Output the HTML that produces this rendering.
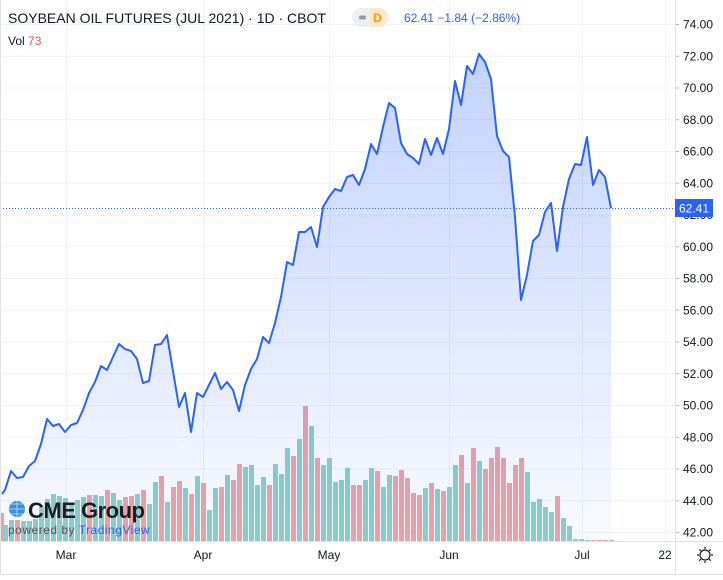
<!DOCTYPE html>
<html><head><meta charset="utf-8"><style>
body{margin:0;background:#fff;width:723px;height:575px;overflow:hidden;font-family:"Liberation Sans",sans-serif}
</style></head><body>
<svg width="723" height="575" xmlns="http://www.w3.org/2000/svg" font-family="Liberation Sans, sans-serif">
<defs>
<linearGradient id="g2" x1="0" y1="54" x2="0" y2="541" gradientUnits="userSpaceOnUse">
<stop offset="0" stop-color="#2962ff" stop-opacity="0.28"/>
<stop offset="1" stop-color="#2962ff" stop-opacity="0.03"/>
</linearGradient>
</defs>
<rect x="0" y="0" width="723" height="575" fill="#fff"/>
<g id="grid" stroke="#f0f3fa" stroke-width="1"></g>
<g id="vol"></g>
<path id="area" fill="url(#g2)"/>
<path id="line" fill="none" stroke="#2962ff" stroke-width="2" stroke-linejoin="round"/>
<line x1="0" y1="208.5" x2="675" y2="208.5" stroke="#2962ff" stroke-width="1" stroke-dasharray="1,2"/>
<line x1="675.5" y1="0" x2="675.5" y2="575" stroke="#e0e3eb"/>
<line x1="0" y1="541.5" x2="723" y2="541.5" stroke="#e0e3eb"/>
<line x1="0.5" y1="0" x2="0.5" y2="575" stroke="#e0e3eb"/>
<line x1="0" y1="574.5" x2="723" y2="574.5" stroke="#e0e3eb"/>
<g id="ylab" font-size="12" fill="#131722"></g>
<rect x="675" y="199" width="38" height="18" fill="#2962ff"/>
<text x="694" y="212.5" font-size="12" fill="#fff" text-anchor="middle">62.41</text>
<g font-size="12" fill="#131722" text-anchor="middle">
<text x="66" y="559">Mar</text><text x="203" y="559">Apr</text><text x="329" y="559">May</text>
<text x="449" y="559">Jun</text><text x="582" y="559">Jul</text><text x="665" y="559">22</text>
</g>
<g transform="translate(705,555)" stroke="#131722" stroke-width="1.2" fill="none">
<circle r="5"/><path d="M0,-8V-6M0,6V8M-8,0H-6M6,0H8M-5.7,-5.7L-4.2,-4.2M4.2,4.2L5.7,5.7M-5.7,5.7L-4.2,4.2M4.2,-4.2L5.7,-5.7"/>
</g>
<text x="8" y="23" font-size="14" fill="#131722">SOYBEAN OIL FUTURES (JUL 2021) · 1D · CBOT</text>
<rect x="352" y="8" width="36" height="19" rx="9.5" fill="#eceef2"/>
<path d="M370,8h8.5a9.5,9.5 0 0 1 0,19h-8.5z" fill="#fde7c6"/>
<rect x="359" y="15.5" width="7" height="4" rx="2" fill="#9598a1"/>
<text x="373" y="22" font-size="12" fill="#ff9800" font-weight="bold">D</text>
<text x="404" y="22" font-size="12" fill="#2962ff">62.41  −1.84 (−2.86%)</text>
<text x="8" y="45" font-size="12" fill="#131722">Vol <tspan fill="#ef5350">73</tspan></text>
<g>
<circle cx="17" cy="509" r="8" fill="#3a8fd8"/>
<path d="M9,509h16M17,501v16M11,504h12M11,514h12" stroke="#bde0fb" stroke-width="0.8"/>
<text x="28" y="518" font-size="22" font-weight="bold" fill="#1e1e1e" letter-spacing="-0.5">CME Group</text>
<text x="8" y="534" font-size="12" fill="#555" letter-spacing="0.5">powered by <tspan fill="#2962ff">TradingView</tspan></text>
</g>
</svg>
<script>
const NS="http://www.w3.org/2000/svg";
function el(n,a,p){const e=document.createElementNS(NS,n);for(const k in a)e.setAttribute(k,a[k]);document.getElementById(p).appendChild(e);return e;}
const Y=p=>24+(74-p)*15.875;
for(let v=42;v<=74;v+=2){const y=Y(v);el('line',{x1:0,x2:675,y1:y+.5,y2:y+.5},'grid');
const t=el('text',{x:683,y:y+4.5},'ylab');t.textContent=v.toFixed(2);
el('line',{x1:675,x2:679,y1:y+.5,y2:y+.5,stroke:'#b2b5be'},'grid');}
[66,203,329,449,582,665].forEach(x=>el('line',{x1:x+.5,x2:x+.5,y1:0,y2:541},'grid'));
const pts=[[2,494],[5,490],[11,471],[17,478],[23,477],[29,466],[35,461],[41,444],[47,419],[53,426],[59,424],[65,432],[71,425],[77,423],[83,410],[89,393],[95,382],[101,366],[107,370],[113,357],[119,344],[125,349],[131,351],[137,359],[143,383],[149,381],[155,345],[161,344],[167,335],[179,407],[185,393],[191,432],[197,393],[203,397],[209,385],[215,373],[221,389],[227,382],[233,390],[239,411],[245,385],[251,369],[257,359],[263,337],[269,343],[275,323],[281,297],[287,262],[293,265],[299,232],[305,232],[311,227],[317,247],[323,207],[329,197],[335,189],[341,191],[347,177],[353,175],[359,185],[365,169],[371,144],[377,154],[383,127],[389,103],[395,108],[401,143],[407,154],[413,158],[419,164],[425,139],[431,155],[437,138],[443,154],[449,129],[455,81],[461,105],[467,66],[473,74],[479,54],[485,62],[491,79],[497,136],[503,151],[509,157],[515,217],[521,300],[527,275],[533,241],[539,235],[545,212],[551,203],[557,251],[563,207],[569,179],[575,164],[581,165],[587,137],[593,185],[599,170],[605,177],[611,208]];
const d=pts.map((p,i)=>(i?'L':'M')+p[0]+','+p[1]).join('');
document.getElementById('line').setAttribute('d',d);
document.getElementById('area').setAttribute('d',d+'L611,541L2,541Z');
const T='#8dd0c8',R='#f0a3a5';
const bars=[[-1,513,R],[3,525,T],[9,520,T],[15,520,R],[21,521,T],[27,521,T],[33,519,T],[39,507,T],[45,499,T],[51,494,T],[57,496,T],[63,498,T],[69,503,T],[75,500,T],[81,497,T],[87,495,R],[93,495,T],[99,496,T],[105,490,R],[111,493,T],[117,500,T],[123,497,R],[129,496,R],[135,494,T],[141,490,R],[147,504,T],[153,482,T],[159,476,R],[165,502,T],[171,487,R],[177,481,R],[183,488,T],[189,494,R],[195,476,T],[201,483,R],[207,510,T],[213,488,T],[219,487,R],[225,475,T],[231,480,R],[237,464,R],[243,467,T],[249,465,T],[255,485,T],[261,477,T],[267,485,R],[273,464,T],[279,474,T],[285,448,T],[291,456,R],[297,439,T],[303,406,R],[309,426,T],[315,458,R],[321,465,T],[327,458,T],[333,482,T],[339,480,T],[345,468,T],[351,485,R],[357,485,R],[363,480,T],[369,468,T],[375,471,R],[381,487,T],[387,475,T],[393,476,R],[399,470,R],[405,478,R],[411,493,R],[417,495,R],[423,488,T],[429,483,R],[435,489,T],[441,491,R],[447,487,T],[453,465,T],[459,455,R],[465,483,T],[471,448,R],[477,461,T],[483,469,R],[489,458,R],[495,447,R],[501,458,R],[507,483,R],[513,465,R],[519,458,R],[525,472,T],[531,502,T],[537,499,T],[543,507,T],[549,512,T],[555,496,R],[561,518,T],[567,526,T],[573,539,T],[579,539,T],[585,540,T],[591,540,R],[597,540,R],[603,540,R],[609,540,R]];
bars.forEach(b=>el('rect',{x:b[0],y:b[1],width:5,height:541-b[1],fill:b[2]},'vol'));
</script>
</body></html>
